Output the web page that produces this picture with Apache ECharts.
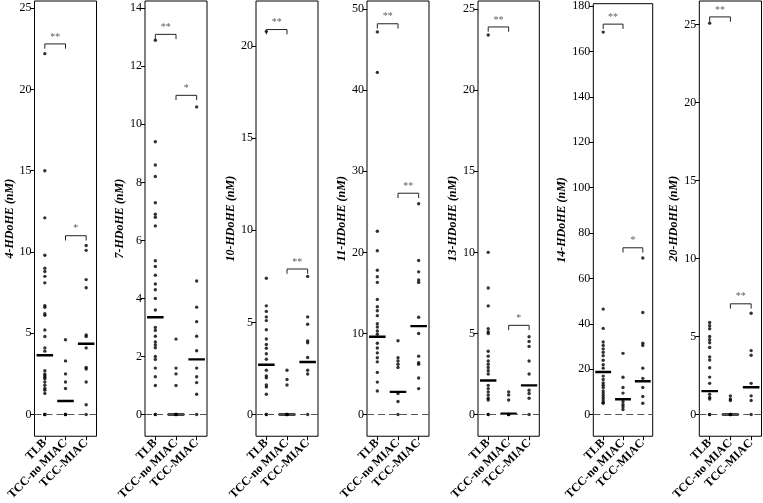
<!DOCTYPE html>
<html>
<head>
<meta charset="utf-8">
<script src="https://cdn.jsdelivr.net/npm/echarts@6/dist/echarts.min.js"></script>
<style>html,body{margin:0;padding:0;background:#fff}#c{width:763px;height:503px}</style>
</head>
<body>
<div id="c"></div>
<script>
const categories = ['TLB', 'TCC-no MIAC', 'TCC-MIAC'];
const yNames = ['4-HDoHE (nM)', '7-HDoHE (nM)', '10-HDoHE (nM)', '11-HDoHE (nM)', '13-HDoHE (nM)', '14-HDoHE (nM)', '20-HDoHE (nM)'];

// tick labels per panel
const ticks1 = [0, 5, 10, 15, 20, 25];
const ticks2 = [0, 2, 4, 6, 8, 10, 12, 14];
const ticks3 = [0, 5, 10, 15, 20];
const ticks4 = [0, 10, 20, 30, 40, 50];
const ticks5 = [0, 5, 10, 15, 20, 25];
const ticks6 = [0, 20, 40, 60, 80, 100, 120, 140, 160, 180];
const ticks7 = [0, 5, 10, 15, 20, 25];

// 4-HDoHE
const p1TLB = [22.2, 15.0, 12.1, 9.8, 9.0, 8.8, 8.5, 8.1, 6.7, 6.6, 6.2, 6.1, 5.2, 4.8, 4.1, 3.9, 2.7, 2.5, 2.4, 2.3, 2.2, 2.0, 1.8, 1.6, 1.5, 1.3, 0, 0, 0];
const p1NoMIAC = [4.6, 3.3, 2.5, 2.0, 1.6, 0, 0, 0];
const p1MIAC = [10.4, 10.1, 8.3, 7.8, 4.9, 4.8, 4.1, 2.9, 2.8, 2.0, 0.6, 0];
const p1Medians = [3.65, 0.83, 4.35];
const p1Sig = [[1, 2, 22.8, '**'], [2, 3, 11.0, '*']];

// 7-HDoHE
const p2TLB = [12.9, 9.4, 8.6, 8.2, 7.3, 6.9, 6.8, 6.5, 5.3, 5.1, 4.8, 4.5, 4.3, 4.0, 3.6, 3.0, 2.9, 2.7, 2.5, 2.4, 2.3, 2.0, 1.9, 1.6, 1.3, 1.0, 0, 0];
const p2NoMIAC = [2.6, 1.6, 1.4, 1.0, 0, 0, 0];
const p2MIAC = [10.6, 4.6, 3.7, 3.2, 2.7, 2.2, 1.6, 1.3, 1.1, 0.7, 0];
const p2Medians = [3.35, 0, 1.9];
const p2Sig = [[1, 2, 13.1, '**'], [2, 3, 11.0, '*']];

// 10-HDoHE
const p3TLB = [20.8, 7.4, 5.9, 5.6, 5.3, 5.1, 4.6, 4.1, 3.8, 3.6, 3.3, 3.0, 2.4, 2.1, 2.0, 1.6, 1.5, 1.1, 0, 0];
const p3NoMIAC = [2.4, 1.9, 1.6, 0, 0, 0];
const p3MIAC = [7.5, 5.3, 4.9, 4.0, 3.9, 3.1, 2.4, 2.2, 0];
const p3Medians = [2.7, 0, 2.85];
const p3Sig = [[1, 2, 20.9, '**'], [2, 3, 7.9, '**']];

// 11-HDoHE
const p4TLB = [47.2, 42.2, 22.6, 20.2, 17.8, 17.0, 16.3, 14.2, 13.3, 12.8, 12.2, 11.2, 10.8, 10.3, 9.9, 8.8, 8.2, 7.6, 7.0, 6.5, 5.2, 4.0, 2.9];
const p4NoMIAC = [9.1, 7.0, 6.6, 6.2, 5.8, 2.6, 1.6, 0];
const p4MIAC = [26.0, 19.0, 17.6, 16.6, 16.3, 12.0, 10.0, 7.2, 6.4, 6.2, 4.5, 3.2];
const p4Medians = [9.6, 2.8, 10.9];
const p4Sig = [[1, 2, 48.2, '**'], [2, 3, 27.3, '**']];

// 13-HDoHE
const p5TLB = [23.4, 10.0, 7.8, 6.7, 5.3, 5.1, 5.0, 3.9, 3.6, 3.3, 3.1, 2.9, 2.7, 2.5, 1.8, 1.6, 1.4, 1.2, 1.0, 0.9, 0, 0];
const p5NoMIAC = [1.4, 1.2, 0.9, 0, 0, 0];
const p5MIAC = [4.8, 4.5, 4.2, 3.3, 2.5, 1.5, 1.3, 1.0, 0];
const p5Medians = [2.1, 0.05, 1.8];
const p5Sig = [[1, 2, 23.9, '**'], [2, 3, 5.5, '*']];

// 14-HDoHE
const p6TLB = [168.5, 46.5, 38, 32, 30.5, 29, 27.5, 26, 24, 22, 20.5, 17, 15.5, 14, 13, 12, 10.5, 9.5, 8.5, 7.5, 6.5, 5.5, 5];
const p6NoMIAC = [27, 16.5, 12, 9.5, 5.8, 4.5, 3.5, 2.3];
const p6MIAC = [69, 45, 31.5, 30.5, 20.5, 16, 12, 8, 5];
const p6Medians = [18.8, 6.8, 14.7];
const p6Sig = [[1, 2, 172, '**'], [2, 3, 73.5, '*']];

// 20-HDoHE
const p7TLB = [25.1, 5.9, 5.7, 5.5, 5.0, 4.8, 4.6, 4.3, 3.7, 3.5, 3.0, 2.4, 2.0, 1.3, 1.1, 1.0, 0, 0];
const p7NoMIAC = [1.2, 1.0, 0.9, 0, 0, 0];
const p7MIAC = [6.5, 4.1, 3.8, 2.0, 1.2, 0.9, 0];
const p7Medians = [1.5, 0, 1.75];
const p7Sig = [[1, 2, 25.5, '**'], [2, 3, 7.1, '**']];

// axis extents
const yMins = [-1.336, -0.748, -1.179, -2.678, -1.339, -9.5, -1.392];
const yMaxs = [25.44, 14.25, 22.45, 51.01, 25.5, 181, 26.52];

// layout (pixels)
const gridLefts = [34.5, 145, 256, 367, 478, 593.3, 699.3];
const gridWidths = [62, 62, 62, 62, 61.3, 59.4, 62.2];

const panels = [
  {groups: [p1TLB, p1NoMIAC, p1MIAC], med: p1Medians, sig: p1Sig, ticks: ticks1},
  {groups: [p2TLB, p2NoMIAC, p2MIAC], med: p2Medians, sig: p2Sig, ticks: ticks2},
  {groups: [p3TLB, p3NoMIAC, p3MIAC], med: p3Medians, sig: p3Sig, ticks: ticks3},
  {groups: [p4TLB, p4NoMIAC, p4MIAC], med: p4Medians, sig: p4Sig, ticks: ticks4},
  {groups: [p5TLB, p5NoMIAC, p5MIAC], med: p5Medians, sig: p5Sig, ticks: ticks5},
  {groups: [p6TLB, p6NoMIAC, p6MIAC], med: p6Medians, sig: p6Sig, ticks: ticks6},
  {groups: [p7TLB, p7NoMIAC, p7MIAC], med: p7Medians, sig: p7Sig, ticks: ticks7}
];

const serif = 'Liberation Serif, Times New Roman, serif';
const grid = [], xAxis = [], yAxis = [], series = [];

panels.forEach((p, i) => {
  grid.push({left: gridLefts[i], top: 1, width: gridWidths[i], height: 441,
    show: true, borderColor: '#000', borderWidth: 1, backgroundColor: 'transparent'});
  xAxis.push({
    type: 'value', gridIndex: i, min: 0.5, max: 3.5,
    axisLine: {show: false, onZero: false},
    splitLine: {show: false},
    axisTick: {show: true, customValues: [1, 2, 3], length: 4, lineStyle: {color: '#000'}},
    axisLabel: {customValues: [1, 2, 3], rotate: 45, margin: 5,
      formatter: v => categories[Math.round(v) - 1],
      fontFamily: serif, fontWeight: 'bold', fontSize: 12, color: '#000'}
  });
  yAxis.push({
    type: 'value', gridIndex: i, min: yMins[i], max: yMaxs[i],
    name: yNames[i], nameLocation: 'middle', nameGap: 13, nameRotate: 90,
    nameTextStyle: {fontFamily: serif, fontWeight: 'bold', fontStyle: 'italic', fontSize: 12, color: '#000'},
    axisLine: {show: false, onZero: false},
    splitLine: {show: false},
    axisTick: {show: true, customValues: p.ticks, length: 4, lineStyle: {color: '#000'}},
    axisLabel: {customValues: p.ticks, margin: 3, fontFamily: serif, fontSize: 12, color: '#000'}
  });
  const range = yMaxs[i] - yMins[i];
  // zero reference line
  series.push({
    type: 'line', xAxisIndex: i, yAxisIndex: i, data: [], silent: true,
    markLine: {silent: true, symbol: ['none', 'none'], label: {show: false},
      lineStyle: {type: [7, 4], color: '#555', width: 1}, data: [{yAxis: 0}]},
    animation: false
  });
  // points
  p.groups.forEach((vals, g) => {
    series.push({
      type: 'scatter', xAxisIndex: i, yAxisIndex: i, symbolSize: 3.4,
      itemStyle: {color: '#000'}, data: vals.map(v => [g + 1, v]), z: 3
    });
  });
  // medians
  p.med.forEach((m, g) => {
    series.push({
      type: 'line', xAxisIndex: i, yAxisIndex: i, symbol: 'none', z: 4,
      lineStyle: {color: '#000', width: 2.4},
      data: [[g + 1 - 0.4, m], [g + 1 + 0.4, m]]
    });
  });
  // significance brackets
  p.sig.forEach(s => {
    const [a, b, y, stars] = s;
    const d = range * 0.011;
    series.push({
      type: 'line', xAxisIndex: i, yAxisIndex: i, symbol: 'none', z: 4,
      lineStyle: {color: '#222', width: 1},
      data: [[a, y - d], [a, y], [b, y], [b, y - d]]
    });
    series.push({
      type: 'scatter', xAxisIndex: i, yAxisIndex: i, symbolSize: 0, z: 5,
      data: [[(a + b) / 2, y]],
      label: {show: true, position: 'top', distance: 2, formatter: stars,
        fontFamily: serif, fontSize: 10, color: '#333'}
    });
  });
});

const chart = echarts.init(document.getElementById('c'), null, {renderer: 'canvas'});
chart.setOption({animation: false, grid, xAxis, yAxis, series});
</script>
</body>
</html>
